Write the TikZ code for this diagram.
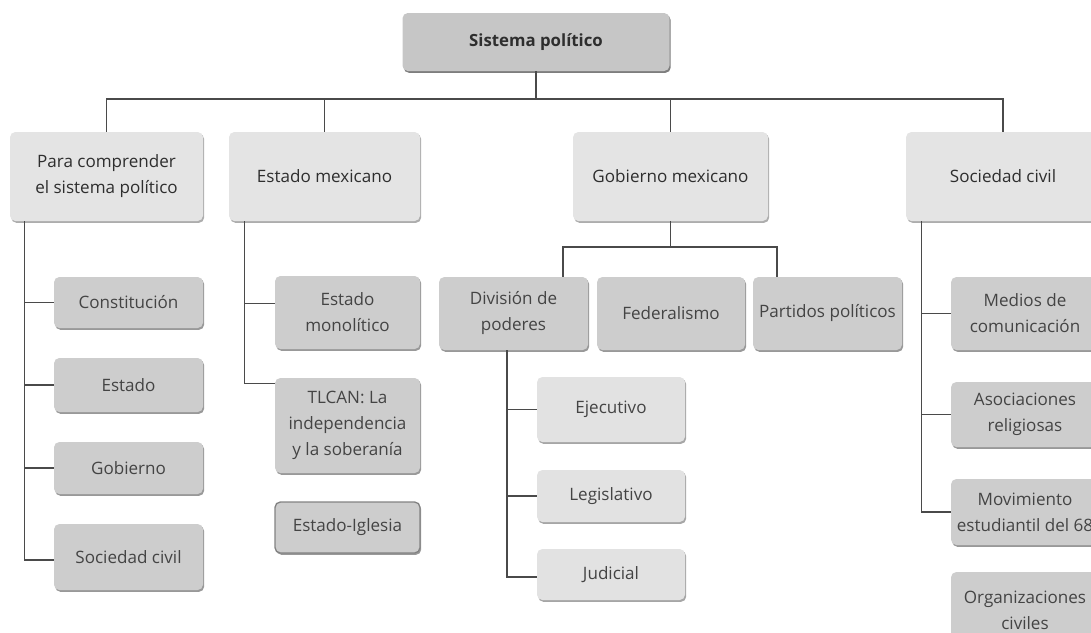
\documentclass[tikz,border=0pt]{standalone}
\usepackage{fontspec}
\setmainfont{Open Sans}
\usetikzlibrary{positioning,calc,shadows}
\definecolor{topfill}{HTML}{C6C6C6}
\definecolor{topshade}{HTML}{7E7E7E}
\definecolor{headfill}{HTML}{E4E4E4}
\definecolor{headshade}{HTML}{ADADAD}
\definecolor{itemfill}{HTML}{CDCDCD}
\definecolor{itemshade}{HTML}{999999}
\definecolor{subfill}{HTML}{E2E2E2}
\definecolor{subshade}{HTML}{A6A6A6}
\definecolor{linec}{HTML}{4A4A4A}
\definecolor{textfg}{HTML}{2E2E2E}
\definecolor{itemfg}{HTML}{444444}

\begin{document}
\begin{tikzpicture}[
  x=0.75pt, y=-0.75pt,
  box/.style={
    fill=#1fill,
    rounded corners=4pt,
    align=center,
    inner sep=2pt,
    drop shadow={shadow xshift=0.9pt, shadow yshift=-1.4pt, fill=#1shade, opacity=1},
    font=\fontsize{12.8}{19.5}\selectfont,
    text=itemfg
  },
  wh/.style 2 args={minimum width=#1*0.75pt, minimum height=#2*0.75pt},
  conn/.style={
    draw=linec,
    line width=1pt
  }
]
\useasboundingbox (0,0) rectangle (1091,632);
\clip (0,0) rectangle (1091,632);

% --- Root ---
\node[box=top, wh={267}{58}, text=textfg, font=\fontsize{12.6}{14}\selectfont\bfseries] (root) at (536,42) {Sistema político};

% --- First level ---
\node[box=head, wh={193}{89}, text=textfg] (para) at (106.5,176.5) {Para comprender\\el sistema político};
\node[box=head, wh={191}{89}, text=textfg] (estmex) at (324.5,176.5) {Estado mexicano};
\node[box=head, wh={195}{89}, text=textfg] (gobmex) at (670.5,176.5) {Gobierno mexicano};
\node[box=head, wh={194}{89}, text=textfg] (soc) at (1003,176.5) {Sociedad civil};

\coordinate (bus) at (536,99);
\draw[conn] (root) -- (bus);
\draw[conn] (para.north) |- (bus) -| (soc.north);
\draw[conn] (estmex.north) -- (estmex.north |- bus);
\draw[conn] (gobmex.north) -- (gobmex.north |- bus);

% --- Para comprender ---
\node[box=item, wh={149}{51}] (const) at (128.5,302.5) {Constitución};
\node[box=item, wh={149}{54}] (estado) at (128.5,385) {Estado};
\node[box=item, wh={149}{52}] (gobierno) at (128.5,468) {Gobierno};
\node[box=item, wh={149}{66}] (sociedad) at (128.5,557) {Sociedad civil};

\coordinate (trunka) at ($(para.south west)+(15,0)$);
\draw[conn] (trunka) |- ($(sociedad.west)+(0,3)$);
\draw[conn] (trunka |- const.west) -- (const.west);
\draw[conn] (trunka |- estado.west) -- (estado.west);
\draw[conn] (trunka |- gobierno.west) -- (gobierno.west);

% --- Estado mexicano ---
\node[box=item, wh={145}{73}] (monolitico) at (347.5,312.5) {Estado\\monolítico};
\node[box=item, wh={145}{95}] (tlcan) at (347.5,425.5) {TLCAN: La\\independencia\\y la soberanía};
\node[box=item, wh={145}{51}, draw=itemshade!85!black, line width=1pt] (iglesia) at (347.5,527.5) {Estado-Iglesia};

\coordinate (trunkb) at ($(estmex.south west)+(16,0)$);
\draw[conn] (trunkb) |- ($(tlcan.north west)+(0,6)$);
\draw[conn] (trunkb |- monolitico.west) ++(0,-9) -- ($(monolitico.west)+(0,-9)$);

% --- Gobierno mexicano ---
\node[box=item, wh={149}{73}] (division) at (513.5,313.5) {División de\\poderes};
\node[box=item, wh={148}{73}] (federal) at (671,313.5) {Federalismo};
\node[box=item, wh={149}{73}] (partidos) at (827.5,313.5) {Partidos políticos};

\coordinate (gbus) at (670.5,247);
\draw[conn] (gobmex.south) -- (gbus);
\draw[conn] ($(division.north)+(49.5,0)$) |- (gbus) -| ($(partidos.north)+(-50.5,0)$);

\node[box=sub, wh={148}{65}] (ejecutivo) at (611,409.5) {Ejecutivo};
\node[box=sub, wh={148}{52}] (legislativo) at (611,496) {Legislativo};
\node[box=sub, wh={148}{51}] (judicial) at (611,574.5) {Judicial};

\coordinate (trunkc) at ($(division.south)+(-6.5,0)$);
\draw[conn] (trunkc) |- ($(judicial.west)+(0,2.5)$);
\draw[conn] (trunkc |- ejecutivo.west) -- (ejecutivo.west);
\draw[conn] (trunkc |- legislativo.west) -- (legislativo.west);

% --- Sociedad civil ---
\node[box=item, wh={148}{73}] (medios) at (1025,313.5) {Medios de\\comunicación};
\node[box=item, wh={148}{65}] (asoc) at (1025,414.5) {Asociaciones\\religiosas};
\node[box=item, wh={148}{66}] (movim) at (1025,512) {Movimiento\\estudiantil del 68};
\node[box=item, wh={148}{76}] (organiz) at (1025,610) {Organizaciones\\civiles};

\coordinate (trunkd) at ($(soc.south west)+(16,0)$);
\draw[conn] (trunkd) |- (movim.west);
\draw[conn] (trunkd |- medios.west) -- (medios.west);
\draw[conn] (trunkd |- asoc.west) -- (asoc.west);

\end{tikzpicture}
\end{document}
